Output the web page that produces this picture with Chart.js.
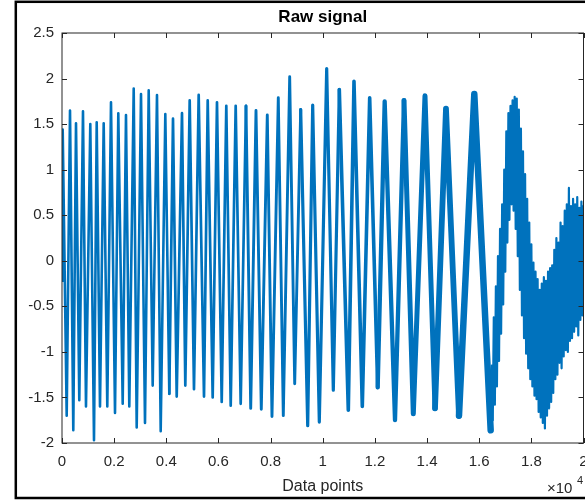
<!DOCTYPE html>
<html>
<head>
<meta charset="utf-8">
<script src="https://cdn.jsdelivr.net/npm/chart.js@4.4.1/dist/chart.umd.min.js"></script>
<style>
  html, body { margin: 0; padding: 0; background: #fff; }
  #wrap { width: 585px; height: 500px; }
</style>
</head>
<body>
<div id="wrap"><canvas id="rawChart" width="585" height="500"></canvas></div>
<script>
// turning points of the signal (sample index, value)
const turnIndex = [
    0, 27, 180, 307, 433, 537, 663, 805, 920, 1085,
    1227, 1331, 1457, 1599, 1737, 1879, 2033, 2159, 2328, 2454,
    2581, 2750, 2865, 3030, 3183, 3325, 3478, 3643, 3785, 3962,
    4115, 4257, 4399, 4602, 4729, 4897, 5062, 5242, 5446, 5588,
    5779, 5944, 6125, 6301, 6470, 6661, 6853, 7056, 7237, 7440,
    7643, 7873, 8053, 8295, 8487, 8732, 8924, 9154, 9423, 9614,
    9868, 10151, 10405, 10635, 10980, 11198, 11517, 11800, 12107, 12375,
    12771, 13116, 13473, 13921, 14305, 14726, 15225, 15812
];
const turnValue = [
    -0.22, 1.44, -1.70, 1.65, -1.86, 1.51, -1.53, 1.64, -1.60, 1.50,
    -1.97, 1.52, -1.60, 1.51, -1.60, 1.74, -1.67, 1.62, -1.57, 1.60,
    -1.60, 1.89, -1.83, 1.83, -1.78, 1.87, -1.37, 1.82, -1.87, 1.61,
    -1.46, 1.56, -1.49, 1.62, -1.37, 1.76, -1.41, 1.82, -1.49, 1.76,
    -1.50, 1.74, -1.55, 1.70, -1.59, 1.70, -1.57, 1.70, -1.62, 1.65,
    -1.63, 1.60, -1.71, 1.79, -1.70, 2.02, -1.35, 1.66, -1.81, 1.71,
    -1.77, 2.11, -1.42, 1.88, -1.64, 1.97, -1.60, 1.79, -1.39, 1.75,
    -1.75, 1.76, -1.68, 1.81, -1.62, 1.67, -1.70, 1.83
];

// last part of the record is noisy: samples every 40 points from 16440 on
const tailStart = 16440;
const tailStep = 40;
const tailValues = [
    -1.86, -1.15, -1.75, -0.62, -1.58, -0.28, -1.38, 0.05, -1.10, 0.35,
    -0.80, 0.62, -0.48, 1.00, -0.12, 1.42, 0.20, 1.62, 0.45, 1.70,
    0.62, 1.76, 0.55, 1.80, 0.35, 1.78, 0.05, 1.66, -0.32, 1.45,
    -0.60, 1.20, -0.85, 0.95, -1.02, 0.68, -1.18, 0.42, -1.30, 0.18,
    -1.38, -0.02, -1.48, -0.12, -1.52, -0.20, -1.66, -0.32, -1.72, -0.25,
    -1.78, -0.18, -1.84, -0.22, -1.70, -0.12, -1.62, -0.08, -1.55, -0.05,
    -1.45, 0.12, -1.30, 0.25, -1.25, 0.20, -1.12, 0.42, -1.18, 0.38,
    -1.05, 0.55, -0.98, 0.62, -1.00, 0.80, -0.88, 0.60, -0.85, 0.68,
    -0.78, 0.62, -0.72, 0.70, -0.82, 0.58, -0.65, 0.65, -0.60, 0.60
];

const xTicks = ['0', '0.2', '0.4', '0.6', '0.8', '1', '1.2', '1.4', '1.6', '1.8', '2'];
const yTicks = ['-2', '-1.5', '-1', '-0.5', '0', '0.5', '1', '1.5', '2', '2.5'];

// line width (px) by sample index: the trace gets fuzzier further on
const widthStops = [[0, 2.6], [4000, 2.7], [7000, 2.9], [9000, 3.2], [10500, 3.6], [12000, 4.3], [13000, 5], [14000, 5.8], [15000, 6.5], [tailStart, 2.2]];

function widthAt(x) {
    let w = widthStops[0][1];
    widthStops.forEach(s => { if (x >= s[0]) w = s[1]; });
    return w;
}

const points = turnIndex.map((x, i) => ({ x: x, y: turnValue[i] }));
tailValues.forEach((v, k) => points.push({ x: tailStart + k * tailStep, y: v }));

const fontFamily = '"Liberation Sans", Arial, Helvetica, sans-serif';
const axisColor = '#262626';

// frame, axis box, inward ticks and the text around the axes
const matlabLook = {
    id: 'matlabLook',
    beforeDraw(chart) {
        const c = chart.ctx;
        c.save();
        c.fillStyle = '#ffffff';
        c.fillRect(0, 0, chart.width, chart.height);
        c.restore();
    },
    afterDraw(chart) {
        const c = chart.ctx;
        const a = chart.chartArea;
        const xs = chart.scales.x, ys = chart.scales.y;
        c.save();
        c.strokeStyle = axisColor;
        c.lineWidth = 1;
        c.strokeRect(a.left, a.top, a.right - a.left, a.bottom - a.top);
        c.beginPath();
        xs.ticks.forEach(t => {
            const px = Math.round(xs.getPixelForValue(t.value)) + 0.5;
            c.moveTo(px, a.bottom); c.lineTo(px, a.bottom - 5);
            c.moveTo(px, a.top); c.lineTo(px, a.top + 5);
        });
        ys.ticks.forEach(t => {
            const py = Math.round(ys.getPixelForValue(t.value)) + 0.5;
            c.moveTo(a.left, py); c.lineTo(a.left + 5, py);
            c.moveTo(a.right, py); c.lineTo(a.right - 5, py);
        });
        c.stroke();

        const mid = (a.left + a.right) / 2;
        c.fillStyle = '#000';
        c.textAlign = 'center';
        c.textBaseline = 'alphabetic';
        c.font = 'bold 17px ' + fontFamily;
        c.fillText('Raw signal', mid, 22);
        c.fillStyle = axisColor;
        c.font = '16px ' + fontFamily;
        c.fillText('Data points', mid, 491);
        c.textAlign = 'left';
        c.font = '15px ' + fontFamily;
        c.fillText('\u00d710', 547, 493);
        c.font = '11px ' + fontFamily;
        c.fillText('4', 577, 484);

        c.strokeStyle = '#000';
        c.lineWidth = 2.5;
        c.strokeRect(15.8, 1.8, 640, 496.2);
        c.restore();
    }
};

new Chart(document.getElementById('rawChart'), {
    type: 'line',
    data: {
        datasets: [{
            label: 'Raw signal',
            data: points,
            borderColor: '#0072BD',
            borderWidth: 2,
            borderJoinStyle: 'round',
            borderCapStyle: 'round',
            pointRadius: 0,
            tension: 0,
            fill: false,
            segment: {
                borderWidth: ctx => widthAt(ctx.p0.parsed.x)
            }
        }]
    },
    options: {
        responsive: false,
        animation: false,
        events: [],
        layout: { padding: { top: 33, right: 1.5, left: 0, bottom: 0 } },
        plugins: { legend: { display: false }, tooltip: { enabled: false }, title: { display: false } },
        scales: {
            x: {
                type: 'linear',
                min: 0,
                max: 20000,
                grid: { display: false, drawTicks: false },
                border: { display: false },
                ticks: {
                    stepSize: 2000,
                    autoSkip: false,
                    maxRotation: 0,
                    padding: 10,
                    color: axisColor,
                    font: { family: fontFamily, size: 15 },
                    callback: (v, i) => xTicks[i]
                },
                afterFit: s => { s.height = 57; s.paddingLeft = 0; s.paddingRight = 0; }
            },
            y: {
                type: 'linear',
                min: -2,
                max: 2.5,
                grid: { display: false, drawTicks: false },
                border: { display: false },
                ticks: {
                    stepSize: 0.5,
                    autoSkip: false,
                    padding: 8,
                    color: axisColor,
                    font: { family: fontFamily, size: 15 },
                    callback: (v, i) => yTicks[i]
                },
                afterFit: s => { s.width = 62; }
            }
        }
    },
    plugins: [matlabLook]
});
</script>
</body>
</html>
